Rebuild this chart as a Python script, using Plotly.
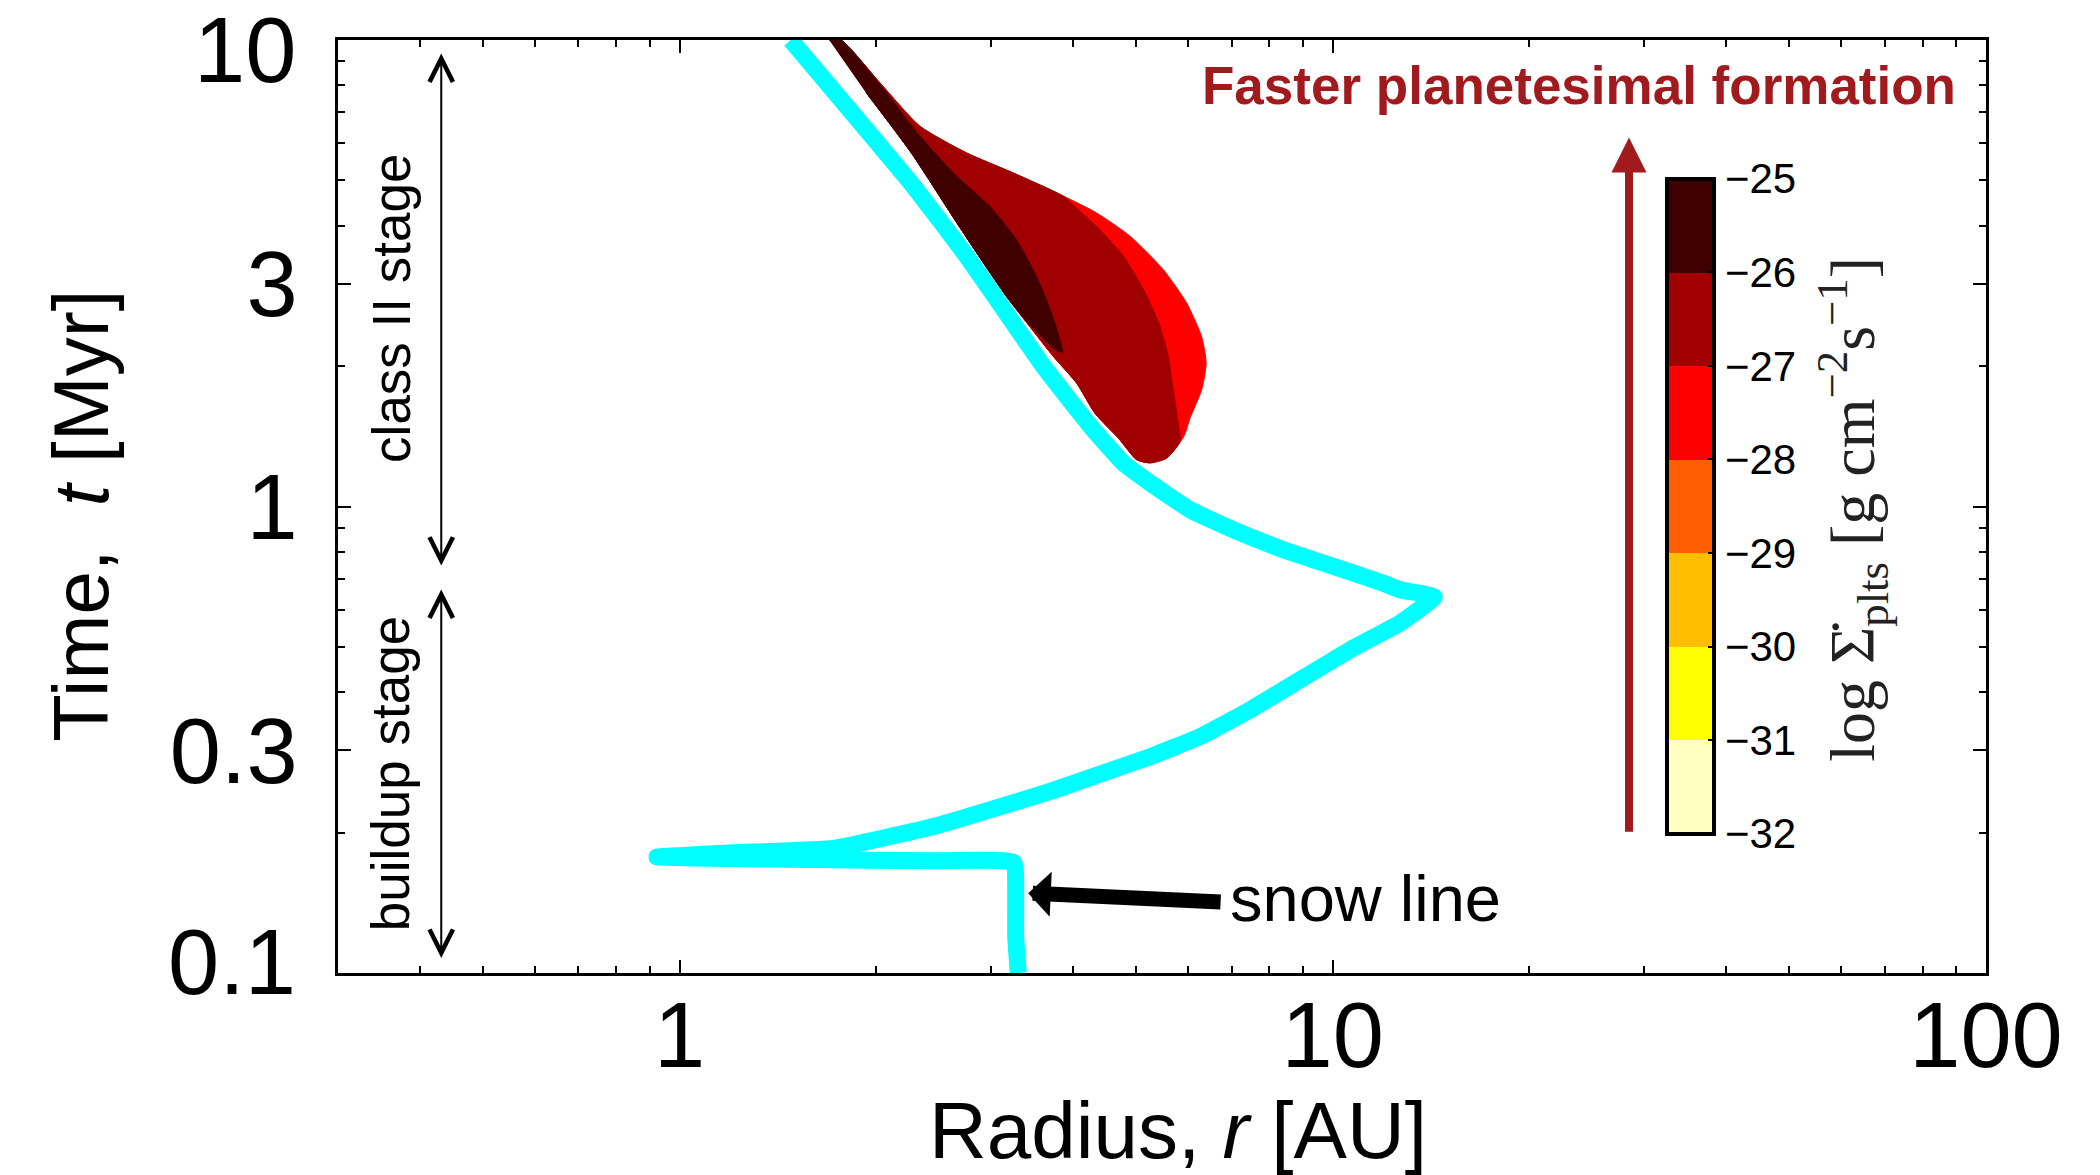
import numpy as np
import plotly.graph_objects as go

# ---------------- data ----------------
# snow line track: radius [AU] vs time [Myr]
snow_r = [3.30, 3.27, 3.27, 3.25, 2.40, 1.60, 1.20, 0.924, 1.207, 1.721, 2.447, 3.692,
          4.153, 5.253, 6.264, 7.470, 8.913, 10.63, 12.67, 14.3, 12.67, 11.95, 10.02,
          8.403, 7.046, 6.046, 5.253, 4.780, 4.301, 3.916, 3.607, 3.284, 2.753,
          2.281, 1.912, 1.48]
snow_t = [0.100, 0.120, 0.150, 0.1725, 0.174, 0.175, 0.176, 0.1773, 0.181, 0.185, 0.206,
          0.245, 0.2594, 0.2909, 0.3212, 0.3665, 0.4251, 0.4930, 0.5623, 0.640, 0.663,
          0.685, 0.744, 0.808, 0.891, 0.984, 1.123, 1.239, 1.461, 1.722, 1.997, 2.41,
          3.438, 4.858, 6.534, 10.0]

# planetesimal formation rate regions (boundary vertices, radius [AU] / time [Myr])
# level -28..-27 (outermost)
outer_r = [1.696, 1.767, 2.024, 2.331, 2.748, 3.240, 3.866, 4.348, 4.891, 5.501, 5.974,
           6.30, 6.40, 6.30, 6.05, 5.91, 5.57, 5.249, 5.007, 4.70, 4.33, 4.052, 3.732,
           3.437, 3.165, 2.700, 2.263, 1.931]
outer_t = [10.0, 10.0, 8.11, 6.54, 5.73, 5.19, 4.63, 4.26, 3.80, 3.22, 2.73,
           2.31, 2.03, 1.78, 1.55, 1.41, 1.27, 1.24, 1.26, 1.40, 1.58, 1.84, 2.10,
           2.43, 2.82, 3.92, 5.73, 7.71]
# level -27..-26
mid_r = [1.696, 1.767, 2.024, 2.331, 2.748, 3.240, 3.866, 4.00, 4.40, 4.78, 5.13, 5.42,
         5.60, 5.70, 5.80, 5.84, 5.57, 5.249, 5.007, 4.70, 4.33, 4.052, 3.732, 3.437,
         3.165, 2.700, 2.263, 1.931]
mid_t = [10.0, 10.0, 8.11, 6.54, 5.73, 5.19, 4.63, 4.44, 3.92, 3.44, 2.92, 2.47,
         2.10, 1.78, 1.51, 1.38, 1.27, 1.24, 1.26, 1.40, 1.58, 1.84, 2.10, 2.43,
         2.82, 3.92, 5.73, 7.71]
# level -26..-25 (core)
core_r = [1.696, 1.767, 2.024, 2.331, 2.653, 2.984, 3.278, 3.518, 3.710, 3.820, 3.857,
          3.776, 3.477, 3.165, 2.700, 2.263, 1.931]
core_t = [10.0, 10.0, 8.04, 6.23, 5.11, 4.40, 3.73, 3.11, 2.60, 2.28, 2.14,
          2.16, 2.41, 2.82, 3.92, 5.73, 7.71]

# colour bar levels (log Sigma_dot) and colours (bottom -> top)
cbar_levels = [-32, -31, -30, -29, -28, -27, -26, -25]
cbar_colors = ["#FFFFC0", "#FFFF00", "#FFBF00", "#FF5F00", "#FF0000", "#A00000", "#400000"]
region_colors = ["#FF0000", "#A00000", "#400000"]

# axis ticks
x_ticks = [1, 10, 100]
x_ticktext = ["1", "10", "100"]
y_ticks = [0.1, 0.3, 1, 3, 10]
y_ticktext = ["0.1", "0.3", "1", "3", "10"]
y_edge_labels = [0.1, 10]          # drawn as separate texts, nudged inwards as in the original
x_range = [0.3, 100]
y_range = [0.1, 10]

# annotation anchor points (radius, time)
stage_x = 0.4317
class2_span = [9.425, 0.747]
buildup_span = [0.669, 0.1077]
class2_label = (0.362, 2.656)
buildup_label = (0.362, 0.2672)
snow_arrow_head = (3.418, 0.1483)
snow_arrow_tail = (6.77, 0.1420)
snow_label = (6.915, 0.1448)
faster_label = (90.6, 7.99)
faster_arrow = (28.41, 0.1994, 6.18)   # x, bottom, tip

FONT = "Liberation Sans, Arial, Helvetica, sans-serif"
SERIF = "Liberation Serif, Times New Roman, DejaVu Serif, serif"
L = np.log10

fig = go.Figure()

for rr, tt, col in [(outer_r, outer_t, region_colors[0]),
                    (mid_r, mid_t, region_colors[1]),
                    (core_r, core_t, region_colors[2])]:
    fig.add_trace(go.Scatter(x=rr, y=tt, mode="lines", fill="toself", fillcolor=col,
                             line=dict(color=col, width=1, shape="spline", smoothing=0.6),
                             hoverinfo="skip"))

fig.add_trace(go.Scatter(x=snow_r, y=snow_t, mode="lines",
                         line=dict(color="#00FFFF", width=17, shape="spline", smoothing=0.35),
                         hoverinfo="skip"))

# colour bar through a dummy trace
n = len(cbar_colors)
cs = []
for i, c in enumerate(cbar_colors):
    cs.append([i / n, c])
    cs.append([(i + 1) / n, c])
fig.add_trace(go.Scatter(
    x=[None], y=[None], mode="markers",
    marker=dict(color=[cbar_levels[0]], cmin=cbar_levels[0], cmax=cbar_levels[-1],
                colorscale=cs, showscale=True,
                colorbar=dict(x=0.8064, xanchor="left", xpad=0, y=0.5003, yanchor="middle",
                              ypad=0, thickness=47, len=655, lenmode="pixels",
                              outlinewidth=4, outlinecolor="black",
                              tickvals=cbar_levels, ticks="inside", ticklen=8,
                              tickcolor="black", tickwidth=2,
                              tickfont=dict(family=FONT, size=42, color="black"))),
    hoverinfo="skip"))

minor_x = [v * m for v in [0.1, 1, 10] for m in range(2, 10) if 0.3 <= v * m <= 100]
minor_y = [v * m for v in [0.1, 1] for m in range(2, 10) if m != 3]

axis_common = dict(type="log", showline=True, linewidth=3, linecolor="black", mirror="allticks",
                   ticks="inside", ticklen=13, tickwidth=2, tickcolor="black", showgrid=False,
                   zeroline=False, ticklabeloverflow="allow",
                   tickfont=dict(family=FONT, size=92, color="black"))
fig.update_xaxes(range=[L(x_range[0]), L(x_range[1])], tickvals=x_ticks, ticktext=x_ticktext,
                 minor=dict(tickvals=minor_x, ticks="inside", ticklen=7, tickwidth=1.5,
                            tickcolor="black", showgrid=False),
                 ticklabelstandoff=-19, **axis_common)
fig.update_yaxes(range=[L(y_range[0]), L(y_range[1])], tickvals=y_ticks,
                 ticktext=["" if v in y_edge_labels else t for v, t in zip(y_ticks, y_ticktext)],
                 minor=dict(tickvals=minor_y, ticks="inside", ticklen=7, tickwidth=1.5,
                            tickcolor="black", showgrid=False),
                 ticklabelstandoff=19, **axis_common)

ann = []
# end labels of the time axis
for v, t in zip(y_ticks, y_ticktext):
    if v in y_edge_labels:
        ann.append(dict(x=0, y=L(v), xref="paper", yref="y", text=t, showarrow=False,
                        xanchor="right", yanchor="middle", xshift=-40, height=82,
                        yshift=-10 if v == max(y_ticks) else 11,
                        font=dict(family=FONT, size=92, color="black")))
# stage double arrows
for top, bot in [class2_span, buildup_span]:
    ann.append(dict(x=L(stage_x), y=L(bot), ax=L(stage_x), ay=L(top), xref="x", yref="y",
                    axref="x", ayref="y", text="", showarrow=True, arrowhead=5,
                    arrowside="end+start", arrowwidth=2, arrowsize=2.3, arrowcolor="black"))
ann.append(dict(x=L(class2_label[0]), y=L(class2_label[1]), xref="x", yref="y",
                text="class II stage", showarrow=False, textangle=-90,
                xanchor="center", yanchor="middle",
                font=dict(family=FONT, size=53, color="black")))
ann.append(dict(x=L(buildup_label[0]), y=L(buildup_label[1]), xref="x", yref="y",
                text="buildup stage", showarrow=False, textangle=-90,
                xanchor="center", yanchor="middle",
                font=dict(family=FONT, size=53, color="black")))
# snow line arrow + label
ann.append(dict(x=L(snow_arrow_head[0]), y=L(snow_arrow_head[1]),
                ax=L(snow_arrow_tail[0]), ay=L(snow_arrow_tail[1]),
                xref="x", yref="y", axref="x", ayref="y", text="", showarrow=True,
                arrowhead=1, arrowwidth=15, arrowsize=0.5, arrowcolor="black"))
ann.append(dict(x=L(snow_label[0]), y=L(snow_label[1]), xref="x", yref="y",
                text="snow line", showarrow=False, xanchor="left", yanchor="middle",
                font=dict(family=FONT, size=65, color="black")))
# faster planetesimal formation
ann.append(dict(x=L(faster_label[0]), y=L(faster_label[1]), xref="x", yref="y",
                text="<b>Faster planetesimal formation</b>", showarrow=False,
                xanchor="right", yanchor="middle",
                font=dict(family=FONT, size=53, color="#A01A1E")))
ann.append(dict(x=L(faster_arrow[0]), y=L(faster_arrow[2]), ax=L(faster_arrow[0]),
                ay=L(faster_arrow[1]), xref="x", yref="y", axref="x", ayref="y", text="",
                showarrow=True, arrowhead=2, arrowwidth=8, arrowsize=0.875,
                arrowcolor="#A01A1E"))
# colour bar title
ann.append(dict(x=0.9187, y=0.4965, xref="paper", yref="paper",
                text="log \u03A3\u0307<sub>plts</sub> [g cm<sup>\u22122</sup>s<sup>\u22121</sup>]",
                showarrow=False, textangle=-90, xanchor="center", yanchor="middle",
                font=dict(family=SERIF, size=64, color="#222222")))
# axis titles
ann.append(dict(x=-0.1557, y=0.4906, xref="paper", yref="paper",
                text="Time,  <i>t</i> [Myr]", showarrow=False, textangle=-90,
                xanchor="center", yanchor="middle",
                font=dict(family=FONT, size=78, color="black")))
ann.append(dict(x=0.5098, y=-0.1690, xref="paper", yref="paper",
                text="Radius, <i>r</i> [AU]", showarrow=False,
                xanchor="center", yanchor="middle",
                font=dict(family=FONT, size=80, color="black")))

# the page puts the figure 8 px in from its corner; margins compensate for that
fig.update_layout(width=2092, height=1167, showlegend=False, annotations=ann,
                  margin=dict(l=330, r=114, t=32, b=202, autoexpand=False),
                  plot_bgcolor="white", paper_bgcolor="white")

fig.write_html("out.html")
